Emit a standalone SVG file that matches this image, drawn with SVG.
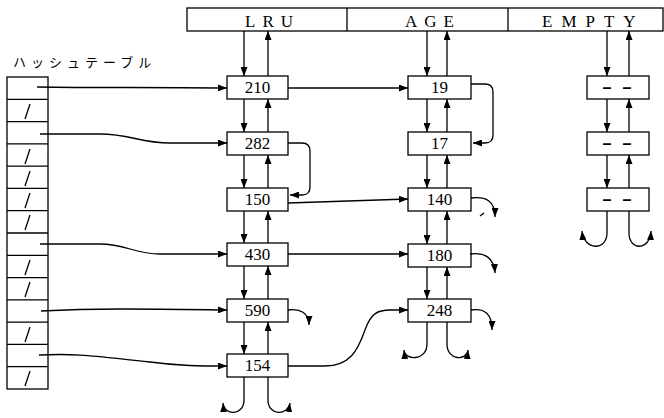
<svg xmlns="http://www.w3.org/2000/svg" width="664" height="418" viewBox="0 0 664 418">
<style>
.b{fill:#fff;stroke:#000;stroke-width:1.3}
.l{fill:none;stroke:#000;stroke-width:1.3}
.la{fill:none;stroke:#000;stroke-width:1.3;marker-end:url(#a)}
.t{font-family:"Liberation Serif","Times New Roman",serif;font-size:17px;fill:#000;text-anchor:middle}
.h{font-family:"Liberation Serif","Times New Roman",serif;font-size:17px;fill:#000}
.d{font-family:"Liberation Sans",Arial,sans-serif;font-size:16px;font-weight:bold;fill:#000;text-anchor:middle}
</style>
<defs>
<marker id="a" viewBox="0 0 9 7" refX="9" refY="3.5" markerWidth="9" markerHeight="7" markerUnits="userSpaceOnUse" orient="auto" preserveAspectRatio="none"><path d="M0,0 L9,3.5 L0,7 z" fill="#000"/></marker>
</defs>
<rect width="664" height="418" fill="#fff"/>

<g id="header">
<rect class="b" x="187" y="8" width="476" height="23"/>
<line class="l" x1="347" y1="8" x2="347" y2="31"/>
<line class="l" x1="508" y1="8" x2="508" y2="31"/>
<text class="h" x="245" y="27" letter-spacing="7">LRU</text>
<text class="h" x="405" y="27" letter-spacing="7">AGE</text>
<text class="h" x="542" y="27" letter-spacing="9">EMPTY</text>
</g>

<g id="hashtable">
<text x="13" y="67" font-family="'Noto Sans CJK JP','Noto Sans CJK SC',sans-serif" font-size="13" letter-spacing="5">ハッシュテーブル</text>
<rect class="b" x="7" y="77" width="41" height="312"/>
<path class="l" d="M7,99.3H48 M7,121.6H48 M7,143.9H48 M7,166.1H48 M7,188.4H48 M7,210.7H48 M7,233H48 M7,255.3H48 M7,277.6H48 M7,299.9H48 M7,322.1H48 M7,344.4H48 M7,366.7H48"/>
<path class="l" d="M25,119L30,104 M25,164L30,149 M25,186L30,171 M25,208L30,193 M25,230L30,215 M25,275L30,260 M25,297L30,282 M25,342L30,327 M25,386L30,371"/>
</g>

<g id="lru-210"><rect class="b" x="227" y="76" width="61" height="23"/><text class="t" x="257.5" y="93">210</text></g>
<g id="lru-282"><rect class="b" x="227" y="132" width="61" height="23"/><text class="t" x="257.5" y="149">282</text></g>
<g id="lru-150"><rect class="b" x="227" y="188" width="61" height="23"/><text class="t" x="257.5" y="205">150</text></g>
<g id="lru-430"><rect class="b" x="227" y="243" width="61" height="23"/><text class="t" x="257.5" y="260">430</text></g>
<g id="lru-590"><rect class="b" x="227" y="299" width="61" height="23"/><text class="t" x="257.5" y="316">590</text></g>
<g id="lru-154"><rect class="b" x="227" y="354" width="61" height="23"/><text class="t" x="257.5" y="371">154</text></g>

<g id="age-19"><rect class="b" x="408" y="76" width="63" height="23"/><text class="t" x="439.5" y="93">19</text></g>
<g id="age-17"><rect class="b" x="408" y="132" width="63" height="23"/><text class="t" x="439.5" y="149">17</text></g>
<g id="age-140"><rect class="b" x="408" y="188" width="63" height="23"/><text class="t" x="439.5" y="205">140</text></g>
<g id="age-180"><rect class="b" x="408" y="244" width="63" height="23"/><text class="t" x="439.5" y="261">180</text></g>
<g id="age-248"><rect class="b" x="408" y="299" width="63" height="23"/><text class="t" x="439.5" y="316">248</text></g>

<g id="empty-1"><rect class="b" x="587" y="76" width="62" height="23"/><text class="d" x="607 627" y="93">––</text></g>
<g id="empty-2"><rect class="b" x="587" y="132" width="62" height="23"/><text class="d" x="607 627" y="149">––</text></g>
<g id="empty-3"><rect class="b" x="587" y="188" width="62" height="23"/><text class="d" x="607 627" y="205">––</text></g>

<g id="connectors">
<!-- LRU verticals -->
<path class="la" d="M244,31V76"/><path class="la" d="M268,76V31"/>
<path class="la" d="M244,99V132"/><path class="la" d="M268,132V99"/>
<path class="la" d="M244,155V188"/><path class="la" d="M268,188V155"/>
<path class="la" d="M244,211V243"/><path class="la" d="M268,243V211"/>
<path class="la" d="M244,266V299"/><path class="la" d="M268,299V266"/>
<path class="la" d="M244,322V354"/><path class="la" d="M268,354V322"/>
<path class="la" d="M244,377V400C244,416 224,416 223,403"/>
<path class="la" d="M268,377V400C268,416 288,416 290,403"/>
<!-- AGE verticals -->
<path class="la" d="M427,31V76"/><path class="la" d="M447,76V31"/>
<path class="la" d="M427,99V132"/><path class="la" d="M447,132V99"/>
<path class="la" d="M427,155V188"/><path class="la" d="M447,188V155"/>
<path class="la" d="M427,211V244"/><path class="la" d="M447,244V211"/>
<path class="la" d="M427,267V299"/><path class="la" d="M447,299V267"/>
<path class="la" d="M427,322V344C427,361 405,361 404,350"/>
<path class="la" d="M447,322V344C447,361 467,361 468,350"/>
<!-- EMPTY verticals -->
<path class="la" d="M607,31V76"/><path class="la" d="M629,76V31"/>
<path class="la" d="M607,99V132"/><path class="la" d="M629,132V99"/>
<path class="la" d="M607,155V188"/><path class="la" d="M629,188V155"/>
<path class="la" d="M607,211V233C607,251 584,251 582,231"/>
<path class="la" d="M629,211V233C629,251 650,251 651,231"/>
<!-- side curves -->
<path class="la" d="M471,84H485Q493,84 493,92V135Q493,143 485,143H473"/>
<path class="la" d="M288,143H302Q310,143 310,151V187Q310,195 302,195H290"/>
<path class="la" d="M471,198C486,196 495,201 495,217"/>
<path class="la" d="M470,254C485,252 494,258 495,273"/>
<path class="la" d="M471,310C485,308 492,314 492,330"/>
<path class="la" d="M288,310C300,308 309,313 309,325"/>
<path class="l" d="M480,216L484,213"/>
<!-- LRU to AGE -->
<path class="la" d="M288,88H408"/>
<path class="la" d="M288,203L408,199"/>
<path class="la" d="M288,254H408"/>
<path class="la" d="M288,366H325C350,366 358,350 365,330C371,313 378,310 390,310H408"/>
<!-- hash table to LRU -->
<path class="la" d="M37,87C100,88 150,87 227,88"/>
<path class="la" d="M40,134H100C130,134 140,143 170,143H227"/>
<path class="la" d="M40,244H100C125,244 135,254 160,254H227"/>
<path class="la" d="M41,311C100,308 150,309 227,310"/>
<path class="la" d="M39,355C80,353 100,357 150,362C180,366 200,366 227,366"/>
</g>
</svg>
